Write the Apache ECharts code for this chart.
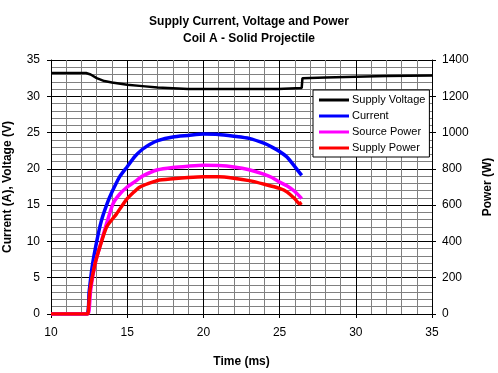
<!DOCTYPE html>
<html><head><meta charset="utf-8">
<script src="https://cdn.jsdelivr.net/npm/echarts@6/dist/echarts.min.js"></script>
<style>html,body{margin:0;padding:0;background:#fff}#c{width:498px;height:373px}</style>
</head><body><div id="c"></div>
<script>
var titleText = 'Supply Current, Voltage and Power\nCoil A - Solid Projectile';
var seriesNames = ['Supply Voltage', 'Current', 'Source Power', 'Supply Power'];
// [time ms, volts]
var supplyVoltage = [[10,33.2],[12.3,33.2],[12.6,33.0],[13.0,32.5],[13.5,32.1],[14,31.9],[15,31.6],[16,31.4],[17,31.2],[18,31.1],[19,31.0],[24.9,31.0],[24.95,31.15],[26.45,31.15],[26.5,32.5],[28,32.6],[30,32.7],[32,32.8],[35,32.85]];
// [time ms, amps]
var current = [[10,0],[12.35,0],[12.5,3],[12.7,6.5],[13,10],[13.3,12.8],[13.7,15.3],[14,16.8],[14.5,18.9],[15,20.3],[15.5,21.7],[16,22.7],[16.5,23.4],[17,23.9],[18,24.4],[19,24.6],[20,24.8],[21,24.75],[22,24.5],[23,24.2],[24,23.5],[24.5,23.0],[25,22.4],[25.5,21.6],[26,20.3],[26.45,19.1]];
// [time ms, watts]
var sourcePower = [[10,0],[12.4,0],[12.5,20],[12.6,130],[12.9,280],[13.2,370],[13.65,500],[14.07,608],[14.5,660],[15,700],[15.6,735],[16,760],[17,795],[18,808],[19,815],[20,820],[21,818],[22,810],[23,795],[24,770],[24.5,752],[25,727],[25.5,705],[26,675],[26.45,636]];
var supplyPower = [[10,0],[12.4,0],[12.45,20],[12.56,132],[12.9,280],[13.2,368],[13.65,480],[14.3,552],[15,636],[15.84,700],[17,736],[18,745],[19,752],[20,756],[21,756],[22,748],[23,735],[24,715],[25,692],[25.5,672],[26,635],[26.3,608],[26.45,615]];
var xName = 'Time (ms)';
var yLeftName = 'Current (A), Voltage (V)';
var yRightName = 'Power (W)';

var FF = "'Liberation Sans', Arial, sans-serif";
var chart = echarts.init(document.getElementById('c'), null, {renderer:'canvas'});
chart.setOption({
  backgroundColor: '#fff',
  animation: false,
  title: {text: titleText, left: 'center', top: 8.5,
    textStyle: {fontFamily: FF, fontSize: 12, fontWeight: 'bold', color: '#000', lineHeight: 16.5}},
  legend: {
    left: 313, top: 90, orient: 'vertical',
    backgroundColor: '#fff', borderColor: '#000', borderWidth: 1,
    padding: [2, 4, 1, 6], itemGap: 0, itemWidth: 30, itemHeight: 3,
    icon: 'rect',
    textStyle: {fontFamily: FF, fontSize: 11, color: '#000', lineHeight: 16, padding: [0,0,0,-2]},
    data: seriesNames
  },
  grid: {left: 51, right: 66, top: 60, bottom: 59, containLabel: false, outerBoundsMode: 'none'},
  xAxis: {
    type: 'value', min: 10, max: 35, interval: 5,
    name: xName, nameLocation: 'middle', nameGap: 42,
    nameTextStyle: {fontFamily: FF, fontSize: 12, fontWeight: 'bold', color: '#000'},
    axisLine: {lineStyle: {color: '#000'}},
    axisTick: {length: 4, lineStyle: {color: '#000'}},
    axisLabel: {fontFamily: FF, fontSize: 12, color: '#000', margin: 13},
    splitLine: {show: true, lineStyle: {color: '#000', width: 1}},
    minorTick: {show: true, splitNumber: 5, length: 0},
    minorSplitLine: {show: true, lineStyle: {color: '#808080', width: 1}}
  },
  yAxis: [{
    type: 'value', min: 0, max: 35, interval: 5,
    name: yLeftName, nameLocation: 'middle', nameGap: 37,
    nameTextStyle: {fontFamily: FF, fontSize: 12, fontWeight: 'bold', color: '#000'},
    axisLine: {show: true, lineStyle: {color: '#000'}},
    axisTick: {show: true, length: 4, lineStyle: {color: '#000'}},
    axisLabel: {fontFamily: FF, fontSize: 12, color: '#000', margin: 11},
    splitLine: {show: true, lineStyle: {color: '#000', width: 1}},
    minorTick: {show: true, splitNumber: 5, length: 0},
    minorSplitLine: {show: true, lineStyle: {color: '#808080', width: 1}}
  }, {
    type: 'value', min: 0, max: 1400, interval: 200,
    name: yRightName, nameLocation: 'middle', nameGap: 50,
    nameTextStyle: {fontFamily: FF, fontSize: 12, fontWeight: 'bold', color: '#000'},
    axisLine: {show: true, lineStyle: {color: '#000'}},
    axisTick: {show: true, length: 4, lineStyle: {color: '#000'}},
    axisLabel: {fontFamily: FF, fontSize: 12, color: '#000', margin: 10, formatter: function(v){return String(v);}},
    splitLine: {show: false}
  }],
  series: [
    {name: seriesNames[0], type: 'line', data: supplyVoltage, yAxisIndex: 0, showSymbol: false,
      color: '#000', lineStyle: {color: '#000', width: 2.5}},
    {name: seriesNames[1], type: 'line', data: current, yAxisIndex: 0, showSymbol: false, smooth: 0.2,
      color: '#0000ff', lineStyle: {color: '#0000ff', width: 3.5}},
    {name: seriesNames[2], type: 'line', data: sourcePower, yAxisIndex: 1, showSymbol: false, smooth: 0.2,
      color: '#ff00ff', lineStyle: {color: '#ff00ff', width: 3.5}},
    {name: seriesNames[3], type: 'line', data: supplyPower, yAxisIndex: 1, showSymbol: false, smooth: 0.2,
      color: '#ff0000', lineStyle: {color: '#ff0000', width: 3.5}}
  ]
});
</script></body></html>
